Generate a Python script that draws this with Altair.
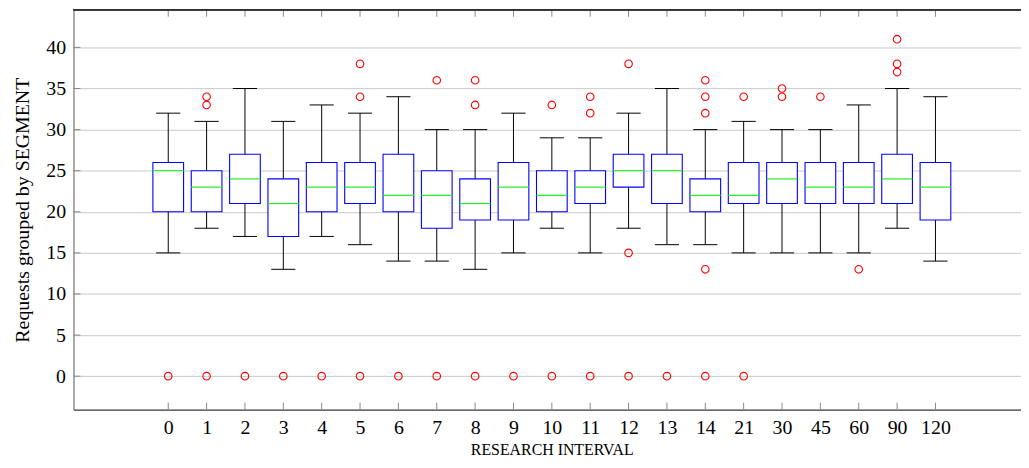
import altair as alt
import pandas as pd

categories = ["0", "1", "2", "3", "4", "5", "6", "7", "8", "9", "10", "11", "12",
              "13", "14", "21", "30", "45", "60", "90", "120"]
whisker_low = [15, 18, 17, 13, 17, 16, 14, 14, 13, 15, 18, 15, 18, 16, 16, 15, 15, 15, 15, 18, 14]
q1 = [20, 20, 21, 17, 20, 21, 20, 18, 19, 19, 20, 21, 23, 21, 20, 21, 21, 21, 21, 21, 19]
median = [25, 23, 24, 21, 23, 23, 22, 22, 21, 23, 22, 23, 25, 25, 22, 22, 24, 23, 23, 24, 23]
q3 = [26, 25, 27, 24, 26, 26, 27, 25, 24, 26, 25, 25, 27, 27, 24, 26, 26, 26, 26, 27, 26]
whisker_high = [32, 31, 35, 31, 33, 32, 34, 30, 30, 32, 29, 29, 32, 35, 30, 31, 30, 30, 33, 35, 34]

outlier_cat = ["0",
               "1", "1", "1",
               "2", "3", "4",
               "5", "5", "5",
               "6",
               "7", "7",
               "8", "8", "8",
               "9",
               "10", "10",
               "11", "11", "11",
               "12", "12", "12",
               "13",
               "14", "14", "14", "14", "14",
               "21", "21",
               "30", "30",
               "45",
               "60",
               "90", "90", "90"]
outlier_val = [0,
               34, 33, 0,
               0, 0, 0,
               38, 34, 0,
               0,
               36, 0,
               36, 33, 0,
               0,
               33, 0,
               34, 32, 0,
               38, 15, 0,
               0,
               36, 34, 32, 13, 0,
               34, 0,
               35, 34,
               34,
               13,
               41, 38, 37]

y_tick_values = [0, 5, 10, 15, 20, 25, 30, 35, 40]

idx = list(range(len(categories)))
boxes = pd.DataFrame({"idx": idx, "cat": categories, "low": whisker_low, "q1": q1,
                      "median": median, "q3": q3, "high": whisker_high})
outliers = pd.DataFrame({"idx": [categories.index(c) for c in outlier_cat],
                         "value": outlier_val})
yticks = pd.DataFrame({"t": y_tick_values})

W, H = 955, 403
FONT = "Liberation Serif"

xscale = alt.Scale(domain=[-2.47, 22.23], nice=False, zero=False)
yscale = alt.Scale(domain=[-4.07, 44.58], nice=False, zero=False)

label_expr = "[" + ",".join("'%s'" % c for c in categories) + "][datum.value]"

x_axis = alt.Axis(values=idx, labelExpr=label_expr, ticks=False, grid=False,
                  domainColor="black", domainWidth=1, labelFont=FONT, labelFontSize=20,
                  labelColor="black", labelPadding=8, labelFlush=False, labelOverlap=False,
                  title="RESEARCH INTERVAL", titleFont=FONT, titleFontSize=16,
                  titleFontWeight="normal", titleColor="black", titleX=482, titleY=40,
                  titleBaseline="middle")
y_axis = alt.Axis(values=y_tick_values, ticks=False, grid=True, gridColor="#c8c8c8",
                  gridWidth=1, domainColor="#555555", domainWidth=1, labelFont=FONT,
                  labelFontSize=20, labelColor="black", labelPadding=8,
                  title="Requests grouped by SEGMENT", titleFont=FONT, titleFontSize=20,
                  titleFontWeight="normal", titleColor="black", titleX=-51,
                  titleBaseline="middle")


def X(f):
    return alt.X(f, scale=xscale, axis=x_axis)


def Y(f):
    return alt.Y(f, scale=yscale, axis=y_axis)


base = alt.Chart(boxes).transform_calculate(
    bl="datum.idx - 0.4", br="datum.idx + 0.4",
    cl="datum.idx - 0.315", cr="datum.idx + 0.315")

whisker = base.mark_rule(color="black", strokeWidth=1).encode(
    x=X("idx:Q"), y=Y("low:Q"), y2="high:Q")
cap_low = base.mark_rule(color="black", strokeWidth=1).encode(
    x=X("cl:Q"), x2="cr:Q", y=Y("low:Q"))
cap_high = base.mark_rule(color="black", strokeWidth=1).encode(
    x=X("cl:Q"), x2="cr:Q", y=Y("high:Q"))
box = base.mark_rect(fill="white", stroke="#0000ff", strokeWidth=1.1).encode(
    x=X("bl:Q"), x2="br:Q", y=Y("q1:Q"), y2="q3:Q")
med = base.mark_rule(color="#22ee22", strokeWidth=1.2).encode(
    x=X("bl:Q"), x2="br:Q", y=Y("median:Q"))
pts = alt.Chart(outliers).mark_point(shape="circle", filled=False, color="#ff0000",
                                     size=58, strokeWidth=1.1, opacity=1).encode(
    x=X("idx:Q"), y=Y("value:Q"))

ytick_marks = alt.Chart(yticks).mark_rule(color="#888888", strokeWidth=1).encode(
    y=Y("t:Q"), x=alt.value(0), x2=alt.value(7))
xtick_bottom = alt.Chart(boxes).mark_rule(color="#888888", strokeWidth=1).encode(
    x=X("idx:Q"), y=alt.value(H - 7), y2=alt.value(H))
xtick_top = alt.Chart(boxes).mark_rule(color="#888888", strokeWidth=1).encode(
    x=X("idx:Q"), y=alt.value(0), y2=alt.value(7))
top_border = alt.Chart(yticks).mark_rule(color="#333333", strokeWidth=1).encode(
    x=alt.value(0), x2=alt.value(W), y=alt.value(0))

chart = alt.layer(
    whisker, box, med, cap_low, cap_high, pts,
    ytick_marks, xtick_bottom, xtick_top, top_border
).properties(
    width=W, height=H,
    padding={"left": 66, "top": 0, "right": 0, "bottom": 48},
    autosize=alt.AutoSizeParams(type="none"),
    background="white",
).configure_view(stroke="transparent")

chart.save("out.html", embed_options={"renderer": "svg", "actions": False})
